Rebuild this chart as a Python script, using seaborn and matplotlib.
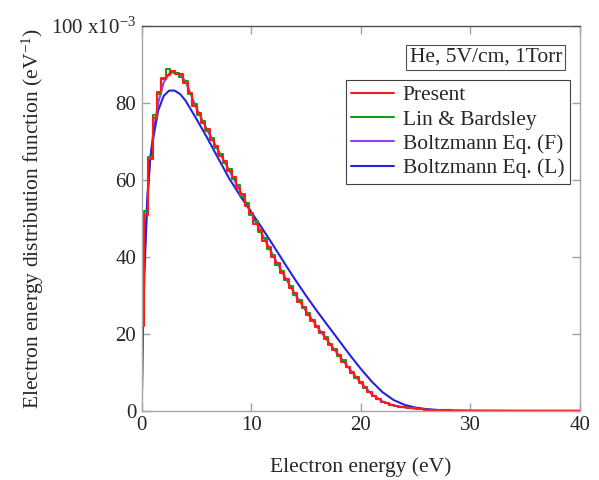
import numpy as np
import seaborn as sns
import matplotlib.pyplot as plt

# EEDF values in units of 1e-3 eV^-1, histograms on 0.4 eV bins from 0 eV
red_eedf = [
    22.0, 51.0, 65.5, 76.0, 82.8, 86.2, 87.2, 88.3, 87.6, 87.4,
    85.2, 82.6, 79.2, 77.3, 74.7, 73.1, 70.4, 68.8, 66.2, 64.9,
    62.3, 60.8, 58.0, 56.3, 53.3, 51.4, 48.6, 46.9, 44.2, 42.6,
    40.0, 38.3, 35.8, 34.3, 31.9, 30.5, 28.3, 26.9, 24.9, 23.6,
    21.7, 20.5, 18.7, 17.5, 15.7, 14.5, 12.8, 11.5, 9.9, 8.7,
    7.2, 6.1, 4.8, 3.9, 3.0, 2.4, 2.0, 1.6, 1.3, 1.1,
    0.9, 0.78, 0.66, 0.55, 0.45, 0.35, 0.3, 0.24, 0.19, 0.15,
    0.1, 0.08, 0.07, 0.06, 0.05, 0.04,
    0.04, 0.03, 0.03, 0.03, 0.02, 0.02, 0.02, 0.02, 0.01, 0.01,
    0.01, 0.01, 0.01, 0.01, 0.01, 0.0, 0.0, 0.0, 0.0, 0.0,
    0.0, 0.0, 0.0, 0.0, 0.0,
]
green_eedf = [
    24.0, 52.0, 66.0, 76.8, 82.4, 86.6, 88.8, 88.0, 87.9, 86.8,
    85.6, 82.2, 79.8, 76.9, 75.3, 72.7, 71.0, 68.3, 66.8, 64.4,
    62.9, 60.3, 58.6, 55.8, 53.9, 51.0, 49.2, 46.4, 44.8, 42.1,
    40.6, 37.9, 36.4, 33.9, 32.5, 30.1, 28.8, 26.6, 25.3, 23.3,
    22.1, 20.2, 19.1, 17.2, 16.1, 14.2, 13.1, 11.3, 10.2, 8.5,
    7.5, 5.9, 5.0, 3.8, 3.1, 2.4, 2.0, 1.6, 1.3, 1.1,
    0.9, 0.78, 0.66, 0.55, 0.45, 0.35, 0.3, 0.24, 0.19, 0.15,
    0.1, 0.08, 0.07, 0.06, 0.05, 0.04,
    0.04, 0.03, 0.03, 0.03, 0.02, 0.02, 0.02, 0.02, 0.01, 0.01,
    0.01, 0.01, 0.01, 0.01, 0.01, 0.0, 0.0, 0.0, 0.0, 0.0,
    0.0, 0.0, 0.0, 0.0, 0.0,
]

# Boltzmann equation solutions
boltz_energy = [
    0, 0.1, 0.25, 0.5, 0.75, 1, 1.5, 2, 2.5, 3, 3.5, 4, 5, 6, 7, 8, 9, 10,
    11, 12, 13, 14, 15, 16, 17, 18, 19, 20, 21, 22, 23, 24, 25, 26, 27, 28,
    30, 35, 40,
]
boltz_f = [
    0.0, 22.0, 40.0, 55.0, 64.5, 71.0, 80.0, 85.3, 87.6, 88.0, 87.3, 85.6,
    78.6, 72.8, 67.6, 62.4, 57.0, 51.5, 45.8, 40.3, 35.1, 30.3, 25.9, 21.9,
    18.1, 14.4, 10.8, 7.3, 4.3, 2.4, 1.4, 0.9, 0.6, 0.35, 0.2, 0.1,
    0.04, 0.01, 0.0,
]
boltz_l = [
    0.0, 20.0, 36.0, 54.0, 65.0, 70.0, 78.0, 81.8, 83.2, 83.2, 82.3, 80.6,
    75.8, 70.8, 65.5, 60.3, 55.8, 51.6, 47.4, 43.0, 38.5, 34.1, 29.9, 25.9,
    22.1, 18.3, 14.5, 10.9, 7.6, 4.8, 2.8, 1.55, 0.85, 0.45, 0.22, 0.1,
    0.03, 0.0, 0.0,
]

y_ticks = [0, 20, 40, 60, 80, 100]
y_tick_labels = ["0", "20", "40", "60", "80", "100 x10$^{-3}$"]
x_ticks = [0, 10, 20, 30, 40]

bin_width = 0.4
red_energy = np.arange(len(red_eedf)) * bin_width
green_energy = np.arange(len(green_eedf)) * bin_width

sns.set_theme(style="ticks")
plt.rcParams["font.family"] = ["Liberation Serif", "DejaVu Serif"]
plt.rcParams["mathtext.fontset"] = "custom"
plt.rcParams["mathtext.rm"] = "Liberation Serif"
plt.rcParams["mathtext.it"] = "Liberation Serif:italic"

fig = plt.figure(figsize=(5.99, 4.8), dpi=100)
ax = fig.add_axes([0.2366, 0.144, 0.7317, 0.802])

lw = 1.5
sns.lineplot(x=boltz_energy, y=boltz_f, ax=ax, color="#9040f0", lw=lw,
             label="Boltzmann Eq. (F)", sort=False)
sns.lineplot(x=boltz_energy, y=boltz_l, ax=ax, color="#2424e0", lw=lw,
             label="Boltzmann Eq. (L)", sort=False)
sns.lineplot(x=green_energy, y=green_eedf, ax=ax, color="#10a010", lw=lw,
             drawstyle="steps-mid", label="Lin & Bardsley", sort=False)
sns.lineplot(x=red_energy, y=red_eedf, ax=ax, color="#ff1a1a", lw=lw,
             drawstyle="steps-mid", label="Present", sort=False)

ax.set_xlim(0, 40)
ax.set_ylim(0, 100)
ax.set_xticks(x_ticks)
ax.set_yticks(y_ticks)
ax.set_yticklabels(y_tick_labels)
ax.tick_params(direction="in", length=6, width=1, color="#a0a0a0",
               top=True, right=True, labelsize=15, pad=4)

for side in ["left", "right", "bottom"]:
    ax.spines[side].set_color("#a8a8a8")
    ax.spines[side].set_linewidth(1)
ax.spines["top"].set_color("#505050")
ax.spines["top"].set_linewidth(1)

ax.set_xlabel("Electron energy (eV)", fontsize=15.5, labelpad=16)
ax.set_ylabel("Electron energy distribution function (eV$^{-1}$)",
              fontsize=15.5, labelpad=4)

handles, labels = ax.get_legend_handles_labels()
order = [labels.index(n) for n in
         ["Present", "Lin & Bardsley", "Boltzmann Eq. (F)", "Boltzmann Eq. (L)"]]
leg = ax.legend([handles[i] for i in order], [labels[i] for i in order],
                loc="upper right", bbox_to_anchor=(0.977, 0.86),
                borderaxespad=0, fontsize=15.5, frameon=True, fancybox=False,
                framealpha=1, edgecolor="#404040", handlelength=2.0,
                handletextpad=0.4, labelspacing=0.2, borderpad=0.25)
leg.get_frame().set_linewidth(0.8)

ax.text(0.959, 0.918, "He, 5V/cm, 1Torr", transform=ax.transAxes,
        ha="right", va="center", fontsize=15.5,
        bbox=dict(boxstyle="square,pad=0.15", fc="white", ec="#505050", lw=0.8))

fig.savefig("out.png", dpi=100)
